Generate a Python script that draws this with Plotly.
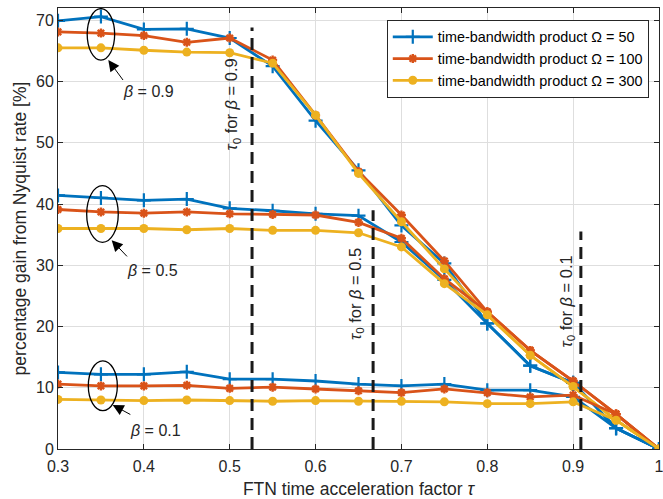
import plotly.graph_objects as go

# FTN acceleration factor values
tau = [0.3, 0.35, 0.4, 0.45, 0.5, 0.55, 0.6, 0.65, 0.7, 0.75, 0.8, 0.85, 0.9, 0.95, 1.0]

# percentage gain [%], beta = 0.9
gain_b09_omega50 = [69.9, 70.6, 68.5, 68.6, 67.1, 62.5, 53.6, 45.5, 36.5, 30.3, 20.5, 13.6, 10.8, 3.4, 0]
gain_b09_omega100 = [68.1, 67.9, 67.5, 66.4, 67.1, 63.5, 54.5, 45.3, 38.2, 30.7, 22.4, 16.1, 11.1, 5.7, 0]
gain_b09_omega300 = [65.5, 65.5, 65.1, 64.8, 64.7, 63.0, 54.5, 45.0, 37.1, 29.4, 21.9, 15.3, 10.2, 4.7, 0]

# percentage gain [%], beta = 0.5
gain_b05_omega50 = [41.4, 41.0, 40.6, 40.8, 39.3, 38.9, 38.4, 38.1, 33.8, 27.6, 20.5, 13.6, 10.8, 3.4, 0]
gain_b05_omega100 = [39.1, 38.7, 38.5, 38.7, 38.4, 38.3, 38.2, 37.0, 34.4, 27.8, 22.4, 16.1, 11.1, 5.7, 0]
gain_b05_omega300 = [36.0, 36.0, 36.0, 35.8, 36.0, 35.7, 35.7, 35.3, 33.0, 27.0, 21.9, 15.3, 10.2, 4.7, 0]

# percentage gain [%], beta = 0.1
gain_b01_omega50 = [12.5, 12.2, 12.2, 12.6, 11.4, 11.4, 11.1, 10.6, 10.3, 10.6, 9.6, 9.6, 8.5, 3.4, 0]
gain_b01_omega100 = [10.6, 10.3, 10.3, 10.4, 9.9, 10.1, 9.8, 9.5, 9.2, 9.8, 9.2, 8.5, 8.8, 5.7, 0]
gain_b01_omega300 = [8.1, 8.0, 7.9, 8.0, 7.9, 7.8, 7.9, 7.8, 7.8, 7.7, 7.4, 7.4, 7.7, 4.7, 0]

legend_names = ["time-bandwidth product \u03a9 = 50",
                "time-bandwidth product \u03a9 = 100",
                "time-bandwidth product \u03a9 = 300"]

# tau_0 = 1/(1+beta) markers
betas = [0.9, 0.5, 0.1]
tau0 = [0.526, 0.667, 0.909]
tau0_line_top = [68.8, 39.0, 35.5]

colors = ["#0072BD", "#D95319", "#EDB120"]
markers = [dict(symbol="cross-thin", size=10, line=dict(width=2.2, color=colors[0])),
           dict(symbol="asterisk-open", size=7.5, line=dict(width=2.4, color=colors[1])),
           dict(symbol="circle", size=9, color=colors[2], line=dict(width=0))]

groups = [
    [gain_b09_omega50, gain_b09_omega100, gain_b09_omega300],
    [gain_b05_omega50, gain_b05_omega100, gain_b05_omega300],
    [gain_b01_omega50, gain_b01_omega100, gain_b01_omega300],
]

fig = go.Figure()
for gi, grp in enumerate(groups):
    for si, series in enumerate(grp):
        fig.add_trace(go.Scatter(
            x=tau, y=series, mode="lines+markers",
            name=legend_names[si], legendgroup=f"s{si}", showlegend=(gi == 0),
            line=dict(color=colors[si], width=2.8),
            marker=markers[si],
        ))

for t0, top in zip(tau0, tau0_line_top):
    fig.add_trace(go.Scatter(
        x=[t0, t0], y=[0, top], mode="lines", showlegend=False,
        line=dict(color="#1a1a1a", width=3, dash="12px,7px"),
        hoverinfo="skip",
    ))

font_family = "Liberation Sans, Arial, sans-serif"
txt_color = "#262626"

# ellipses around the beta groups at tau = 0.35
ellipses = [(0.334, 0.366, 63.5, 71.9), (0.3334, 0.3702, 33.75, 42.99), (0.3353, 0.3691, 6.25, 14.4)]
shapes = []
for x0, x1, y0, y1 in ellipses:
    shapes.append(dict(type="circle", xref="x", yref="y", x0=x0, x1=x1, y0=y0, y1=y1,
                       line=dict(color="black", width=1.3)))

annotations = []
# arrows pointing at the ellipses
arrows = [((0.3586, 63.5), (0.377, 60.0)),
          ((0.3625, 34.1), (0.382, 31.2)),
          ((0.3637, 7.2), (0.386, 5.5))]
for (hx, hy), (tx, ty) in arrows:
    annotations.append(dict(x=hx, y=hy, ax=tx, ay=ty, xref="x", yref="y", axref="x", ayref="y",
                            text="", showarrow=True, arrowhead=2, arrowsize=2.2, arrowwidth=1,
                            arrowcolor="black", standoff=0, startstandoff=0))

# beta labels
beta_labels = [(0.405, 58.3, "0.9"), (0.4097, 29.2, "0.5"), (0.414, 3.1, "0.1")]
for bx, by, bv in beta_labels:
    annotations.append(dict(x=bx, y=by, xref="x", yref="y", showarrow=False,
                            text=f"<i>\u03b2</i> = {bv}",
                            font=dict(family=font_family, size=16, color=txt_color)))

# rotated tau_0 labels
tau0_labels = [(0.503, 56.3), (0.647, 25.3), (0.893, 24.1)]
for (lx, ly), b in zip(tau0_labels, betas):
    annotations.append(dict(x=lx, y=ly, xref="x", yref="y", showarrow=False, textangle=-90,
                            text=f"<i>\u03c4</i><sub>0</sub> for <i>\u03b2</i> = {b}",
                            font=dict(family=font_family, size=16.5, color=txt_color)))

axis_common = dict(
    showgrid=True, gridcolor="#dedede", gridwidth=1,
    showline=True, linecolor=txt_color, linewidth=1, mirror="ticks",
    ticks="inside", ticklen=5, tickcolor=txt_color, tickwidth=1,
    zeroline=False, ticklabeloverflow="allow", automargin=False,
    tickfont=dict(family=font_family, size=16, color=txt_color),
)

fig.update_layout(
    width=663, height=499,
    margin=dict(l=58, r=4, t=8, b=50),
    paper_bgcolor="white", plot_bgcolor="white",
    font=dict(family=font_family, color=txt_color),
    xaxis=dict(range=[0.3, 1.0], tickvals=[0.3, 0.4, 0.5, 0.6, 0.7, 0.8, 0.9, 1.0],
               ticktext=["0.3", "0.4", "0.5", "0.6", "0.7", "0.8", "0.9", "1"],
               ticklabelstandoff=3,
               title=dict(text="FTN time acceleration factor <i>\u03c4</i>",
                          font=dict(family=font_family, size=17.5, color=txt_color), standoff=12),
               **axis_common),
    yaxis=dict(range=[0, 72], tickvals=[0, 10, 20, 30, 40, 50, 60, 70],
               title=dict(text="percentage gain from Nyquist rate [%]",
                          font=dict(family=font_family, size=17.5, color=txt_color), standoff=4),
               **axis_common),
    legend=dict(x=0.983, y=0.9728, xanchor="right", yanchor="top",
                bgcolor="white", bordercolor=txt_color, borderwidth=1,
                font=dict(family=font_family, size=14.4, color="black"),
                tracegroupgap=0, itemwidth=40),
    shapes=shapes,
    annotations=annotations,
    showlegend=True,
)

fig.write_html("out.html")
